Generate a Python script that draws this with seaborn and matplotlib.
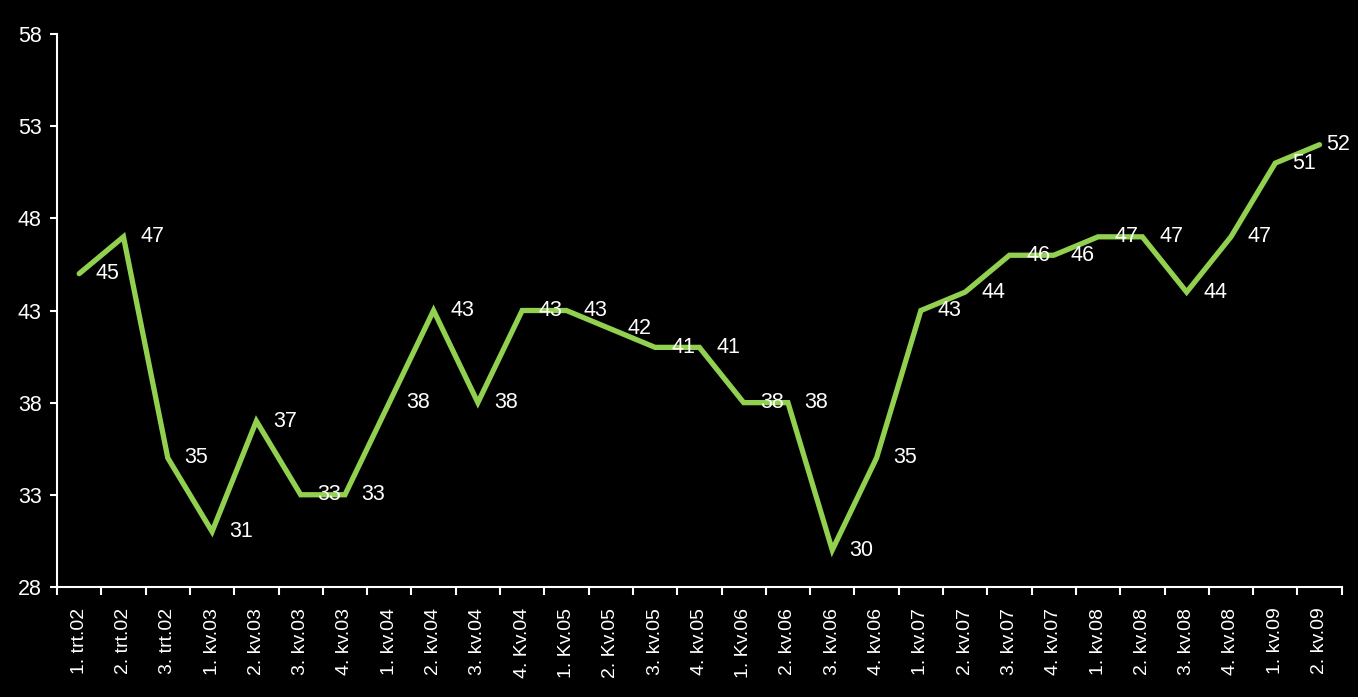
import matplotlib
matplotlib.use("Agg")
import matplotlib.pyplot as plt
import seaborn as sns
import numpy as np
import pandas as pd

categories = ["1. trt.02", "2. trt.02", "3. trt.02", "1. kv.03", "2. kv.03", "3. kv.03",
              "4. kv.03", "1. kv.04", "2. kv.04", "3. kv.04", "4. Kv.04", "1. Kv.05",
              "2. Kv.05", "3. kv.05", "4. kv.05", "1. Kv.06", "2. kv.06", "3. kv.06",
              "4. kv.06", "1. kv.07", "2. kv.07", "3. kv.07", "4. kv.07", "1. kv.08",
              "2. kv.08", "3. kv.08", "4. kv.08", "1. kv.09", "2. kv.09"]
values = [45, 47, 35, 31, 37, 33, 33, 38, 43, 38, 43, 43, 42, 41, 41, 38, 38, 30, 35,
          43, 44, 46, 46, 47, 47, 44, 47, 51, 52]
yticks = [28, 33, 38, 43, 48, 53, 58]

sns.set_style("dark")
plt.rcParams['font.family'] = ['Liberation Sans', 'DejaVu Sans']

FS = 15.5
FSX = 14

fig = plt.figure(figsize=(13.58, 6.97), dpi=100, facecolor="black")
ax = fig.add_axes([0.042, 0.158, 0.946, 0.793])
ax.set_facecolor("black")

df = pd.DataFrame({"pos": np.arange(len(categories)), "val": values})
sns.lineplot(data=df, x="pos", y="val", ax=ax, color="#92D050", linewidth=3.8,
             solid_joinstyle="miter")

for i, v in enumerate(values):
    dx = 12 if i < len(values) - 1 else 5
    ax.annotate(str(v), (i, v), xytext=(dx, 0), textcoords="offset points",
                ha="left", va="center", color="white", fontsize=FS)

ax.set_xlim(-0.5, len(categories) - 0.5)
ax.set_ylim(28, 58)
ax.set_yticks(yticks)
ax.set_yticklabels([str(t) for t in yticks], fontsize=FS, color="white")
ax.set_xticks(np.arange(len(categories)))
ax.set_xticklabels(categories, rotation=90, fontsize=FSX, color="white")
ax.set_xticks(np.arange(len(categories) + 1) - 0.5, minor=True)
ax.tick_params(axis="x", which="major", bottom=True, length=0, pad=15)
ax.tick_params(axis="x", which="minor", bottom=True, length=6, width=1.5,
               color="white", direction="out")
ax.tick_params(axis="y", left=True, length=5, width=1.5, color="white",
               direction="out", pad=6)
ax.set_xlabel("")
ax.set_ylabel("")
ax.grid(False)

for side in ["top", "right"]:
    ax.spines[side].set_visible(False)
for side in ["left", "bottom"]:
    ax.spines[side].set_visible(True)
    ax.spines[side].set_color("white")
    ax.spines[side].set_linewidth(1.5)

fig.savefig("out.png", dpi=100, facecolor="black")
